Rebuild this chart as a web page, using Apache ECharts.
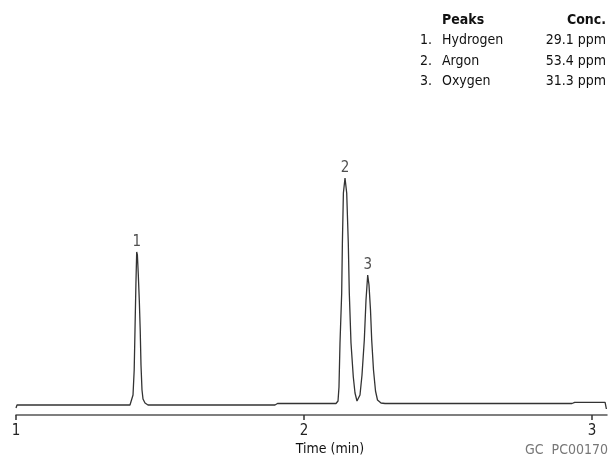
<!DOCTYPE html>
<html>
<head>
<meta charset="utf-8">
<script src="https://cdn.jsdelivr.net/npm/echarts@6/dist/echarts.min.js"></script>
<style>
html,body{margin:0;padding:0;background:#fff;}
#c{width:610px;height:472px;}
</style>
</head>
<body>
<div id="c"></div>
<script>
// Chromatogram trace: time (min), detector response (arbitrary units)
var traceTime = [
  1.0000, 1.0035, 1.3958, 1.4063, 1.4104, 1.4132, 1.4163, 1.4191, 1.4215,
  1.4247, 1.4281, 1.4313, 1.4340, 1.4375, 1.4410, 1.4479, 1.4583, 1.8993, 1.9080,
  2.1111, 2.1181, 2.1215, 2.1250, 2.1309, 2.1333, 2.1368, 2.1424, 2.1483, 2.1538,
  2.1573, 2.1632, 2.1712, 2.1771, 2.1840, 2.1944, 2.2014, 2.2094, 2.2153,
  2.2212, 2.2257, 2.2309, 2.2351, 2.2413, 2.2483, 2.2552, 2.2674, 2.2813, 2.9306,
  2.9400, 3.0455, 3.0500
];
var traceSignal = [
  -3, 0, 0, 10, 35, 75, 120, 153, 150,
  130, 105, 75, 40, 15, 6, 2, 0, 0, 1.5,
  1.5, 4, 18, 62, 112, 162, 212, 227, 212, 162,
  112, 62, 28, 12, 4, 10, 30, 65, 105,
  130, 120, 95, 65, 35, 14, 5, 2, 1.5, 1.5,
  2.7, 2.7, -4
];
// Peak labels
var peakLabels = ['1', '2', '3'];
var peakTimes = [1.4191, 2.1424, 2.2212];
var peakHeights = [153, 227, 130];
// Peak table
var peakNames = ['Hydrogen', 'Argon', 'Oxygen'];
var peakConc = ['29.1 ppm', '53.4 ppm', '31.3 ppm'];
// Axis
var xTicks = [1, 2, 3];
var xMin = 1, xMax = 3.0521;

var FONT = '"Liberation Sans Narrow", "DejaVu Sans Condensed", "Open Sans", sans-serif';
var chart = echarts.init(document.getElementById('c'), null, {renderer: 'canvas'});

var traceData = traceTime.map(function (t, i) { return [t, traceSignal[i]]; });
var peakData = peakTimes.map(function (t, i) { return {value: [t, peakHeights[i]], name: peakLabels[i]}; });

var graphics = [];
var tableTop = 21, rowGap = 20.5;
graphics.push({type: 'text', left: 442, top: tableTop - 8, style: {text: 'Peaks', font: 'bold 14px ' + FONT, fill: '#111'}});
graphics.push({type: 'text', right: 4, top: tableTop - 8, style: {text: 'Conc.', font: 'bold 14px ' + FONT, fill: '#111', align: 'right'}});
peakNames.forEach(function (n, i) {
  var y = tableTop + rowGap * (i + 1) - 8;
  graphics.push({type: 'text', left: 420, top: y, style: {text: (i + 1) + '.', font: '14px ' + FONT, fill: '#111'}});
  graphics.push({type: 'text', left: 442, top: y, style: {text: n, font: '14px ' + FONT, fill: '#111'}});
  graphics.push({type: 'text', right: 4, top: y, style: {text: peakConc[i], font: '14px ' + FONT, fill: '#111', align: 'right'}});
});
graphics.push({type: 'text', x: 330, y: 449, style: {text: 'Time (min)', font: '14px ' + FONT, fill: '#111', align: 'center', verticalAlign: 'middle'}});
graphics.push({type: 'text', x: 608, y: 450, style: {text: 'GC  PC00170', font: '14px ' + FONT, fill: '#777', align: 'right', verticalAlign: 'middle'}});

chart.setOption({
  animation: false,
  backgroundColor: '#fff',
  grid: {left: 16, right: 3, top: 165, bottom: 57, containLabel: false},
  xAxis: {
    type: 'value', min: xMin, max: xMax, interval: 1,
    axisLine: {show: true, onZero: false, lineStyle: {color: '#555', width: 1.5}},
    axisTick: {show: true, customValues: xTicks, length: 5, lineStyle: {color: '#333', width: 1.5}},
    axisLabel: {show: true, customValues: xTicks, fontSize: 15, fontFamily: FONT, color: '#222', margin: 9,
      formatter: function (v) { return xTicks.indexOf(v) >= 0 ? String(v) : ''; }},
    splitLine: {show: false}
  },
  yAxis: {type: 'value', min: -10, max: 240, show: false, splitLine: {show: false}},
  graphic: graphics,
  series: [
    {
      type: 'line', data: traceData, showSymbol: false, symbol: 'none', silent: true,
      lineStyle: {color: '#333', width: 1.3}, emphasis: {disabled: true}
    },
    {
      type: 'scatter', data: peakData, symbolSize: 1, silent: true,
      itemStyle: {color: 'rgba(0,0,0,0)'},
      label: {show: true, position: 'top', distance: 2, formatter: '{b}', fontSize: 15, fontFamily: FONT, color: '#222'}
    }
  ]
});
</script>
</body>
</html>
